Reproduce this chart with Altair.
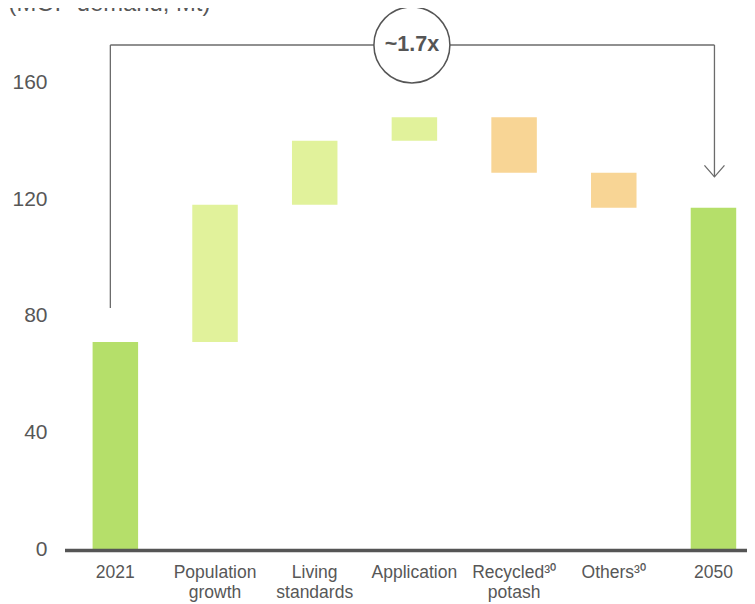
import altair as alt
import pandas as pd

# ---- data ----
categories = ["2021", "Population|growth", "Living|standards", "Application",
              "Recycled³⁰|potash", "Others³⁰", "2050"]
bar_low = [0, 71, 118, 140, 129, 117, 0]
bar_high = [71, 118, 140, 148, 148, 129, 117]
bar_kind = ["total", "increase", "increase", "increase", "decrease", "decrease", "total"]
y_ticks = [0, 40, 80, 120, 160]

title_text = "(MOP demand, Mt)"
multiplier_text = "~1.7x"
bracket_start_cat = "2021"
bracket_end_cat = "2050"
bracket_mid_cat = "Application"
bracket_level = 172.8
bracket_left_bottom = 82.6
arrow_tip = 127.6

kind_domain = ["total", "increase", "decrease"]
kind_colors = ["#b5df6a", "#e1f29b", "#f8d595"]

FONT = "Liberation Sans"
GREY = "#575757"
LINE = "#6b6b6b"

W, H = 682, 525

bars_df = pd.DataFrame({"cat": categories, "low": bar_low, "high": bar_high, "kind": bar_kind})

xscale = alt.Scale(domain=categories, range=[0.5, 698.3], paddingInner=0.5436, paddingOuter=0.2718)
yscale = alt.Scale(domain=[0, 180], nice=False, zero=True)

x_axis = alt.Axis(title=None, labelAngle=0, domain=False, ticks=False, grid=False,
                  labelExpr="split(datum.label, '|')", labelFont=FONT, labelFontSize=17.5,
                  labelColor=GREY, labelPadding=14.8, labelLineHeight=20,
                  labelBaseline="top")
y_axis = alt.Axis(title=None, values=y_ticks, domain=False, ticks=False, grid=False,
                  labelFont=FONT, labelFontSize=21, labelColor=GREY, labelPadding=18)

bars = alt.Chart(bars_df).mark_bar().encode(
    x=alt.X("cat:N", scale=xscale, sort=categories, axis=x_axis),
    y=alt.Y("low:Q", scale=yscale, axis=y_axis),
    y2="high:Q",
    color=alt.Color("kind:N", scale=alt.Scale(domain=kind_domain, range=kind_colors), legend=None),
)

zero_df = pd.DataFrame({"v": [0]})
zero_line = alt.Chart(zero_df).mark_rule(color="#555555", strokeWidth=3.5, yOffset=1.5).encode(
    y=alt.Y("v:Q", scale=yscale),
    x=alt.value(0),
    x2=alt.value(700),
)

vert_left_df = pd.DataFrame({"cat": [bracket_start_cat], "a": [bracket_left_bottom], "b": [bracket_level]})
vert_left = alt.Chart(vert_left_df).mark_rule(color=LINE, strokeWidth=1.3, xOffset=-5).encode(
    x=alt.X("cat:N", scale=xscale, sort=categories, bandPosition=0.5),
    y=alt.Y("a:Q", scale=yscale), y2="b:Q",
)

vert_right_df = pd.DataFrame({"cat": [bracket_end_cat], "a": [arrow_tip], "b": [bracket_level]})
vert_right = alt.Chart(vert_right_df).mark_rule(color=LINE, strokeWidth=1.3, xOffset=1).encode(
    x=alt.X("cat:N", scale=xscale, sort=categories, bandPosition=0.5),
    y=alt.Y("a:Q", scale=yscale), y2="b:Q",
)

horiz_df = pd.DataFrame({"cat": [bracket_start_cat], "cat2": [bracket_end_cat], "a": [bracket_level]})
horiz = alt.Chart(horiz_df).mark_rule(color=LINE, strokeWidth=1.3, xOffset=-5, x2Offset=1).encode(
    x=alt.X("cat:N", scale=xscale, sort=categories, bandPosition=0.5),
    x2=alt.X2("cat2:N", bandPosition=0.5),
    y=alt.Y("a:Q", scale=yscale),
)

arrow_df = pd.DataFrame({"cat": [bracket_end_cat], "a": [arrow_tip]})
arrow = alt.Chart(arrow_df).mark_point(
    shape="M-1,-1.15L0,0L1,-1.15", filled=False, size=400, color=LINE,
    strokeWidth=1.3, opacity=1, xOffset=1,
).encode(
    x=alt.X("cat:N", scale=xscale, sort=categories),
    y=alt.Y("a:Q", scale=yscale),
)

circ_df = pd.DataFrame({"cat": [bracket_mid_cat], "a": [bracket_level], "t": [multiplier_text]})
circle = alt.Chart(circ_df).mark_point(
    shape="circle", filled=True, fill="white", stroke="#555555", strokeWidth=1.5,
    size=5776, opacity=1, fillOpacity=1, xOffset=-2.5,
).encode(
    x=alt.X("cat:N", scale=xscale, sort=categories),
    y=alt.Y("a:Q", scale=yscale),
)
circ_text = alt.Chart(circ_df).mark_text(
    font=FONT, fontSize=21.5, fontWeight="bold", color="#555555", xOffset=-2.5,
    baseline="middle", align="center",
).encode(
    x=alt.X("cat:N", scale=xscale, sort=categories),
    y=alt.Y("a:Q", scale=yscale),
    text="t:N",
)

title_df = pd.DataFrame({"t": [title_text]})
title = alt.Chart(title_df).mark_text(
    font=FONT, fontSize=23.8, color=GREY, align="left", baseline="alphabetic",
).encode(
    x=alt.value(-56.5), y=alt.value(-13.5), text="t:N",
)

chart = alt.layer(bars, zero_line, vert_left, vert_right, horiz, arrow, circle, circ_text, title).properties(
    width=W, height=H,
    autosize=alt.AutoSizeParams(type="none"),
    padding={"left": 57, "top": 16, "right": 0, "bottom": 55},
).configure_view(stroke=None)

chart.save("out.html", embed_options={"renderer": "svg", "actions": False})
